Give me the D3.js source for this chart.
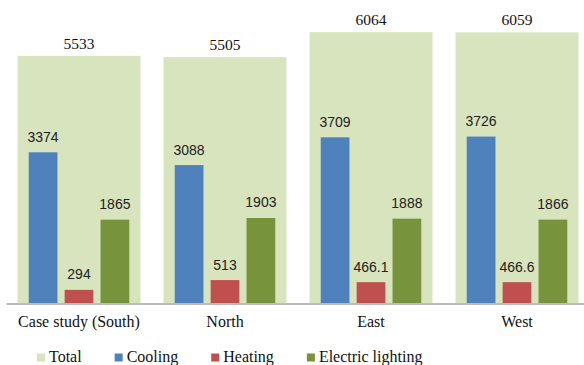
<!DOCTYPE html>
<html>
<head>
<meta charset="utf-8">
<script src="https://cdn.jsdelivr.net/npm/d3@7"></script>
<style>
  body { margin: 0; background: #fff; }
  svg { display: block; }
</style>
</head>
<body>
<svg width="584" height="365"></svg>
<script>
var categories = ['Case study (South)', 'North', 'East', 'West'];
var totals = [5533, 5505, 6064, 6059];
var cooling = [3374, 3088, 3709, 3726];
var heating = [294, 513, 466.1, 466.6];
var lighting = [1865, 1903, 1888, 1866];
var seriesNames = ['Total', 'Cooling', 'Heating', 'Electric lighting'];
var seriesColors = ['#d7e4bd', '#4f81bd', '#c0504d', '#77933c'];

var svg = d3.select('svg');
var baseY = 303;

var x0 = d3.scaleBand().domain(categories).range([6, 590]);
// total bars sit on their own wider band
var xT = d3.scaleBand().domain(categories).range([6, 590])
    .paddingInner(0.158).paddingOuter(0.079);
var x1 = d3.scaleBand().domain([1, 2, 3]).range([0, x0.bandwidth()])
    .paddingInner(0.2).paddingOuter(0.633);
var y = d3.scaleLinear().domain([0, 6000]).range([baseY, 35]);

var fmt = function(v) { return String(v); };

// Total backdrop bars
var tot = svg.append('g');
tot.selectAll('rect')
    .data(categories)
    .enter()
    .append('rect')
    .attr('x', function(d) { return xT(d); })
    .attr('y', function(d, i) { return y(totals[i]); })
    .attr('width', xT.bandwidth())
    .attr('height', function(d, i) { return baseY - y(totals[i]); })
    .style('fill', seriesColors[0]);

tot.selectAll('text')
    .data(categories)
    .enter()
    .append('text')
    .attr('x', function(d) { return xT(d) + xT.bandwidth() / 2; })
    .attr('y', function(d, i) { return y(totals[i]) - 7; })
    .attr('text-anchor', 'middle')
    .style('font-family', '"Liberation Serif", "Times New Roman", serif')
    .style('font-size', '15.5px')
    .style('fill', '#111')
    .text(function(d, i) { return fmt(totals[i]); });

// inner series bars
var inner = [cooling, heating, lighting];
inner.forEach(function(vals, s) {
    var g = svg.append('g');
    g.selectAll('rect')
        .data(categories)
        .enter()
        .append('rect')
        .attr('x', function(d) { return x0(d) + x1(s + 1); })
        .attr('y', function(d, i) { return y(vals[i]); })
        .attr('width', x1.bandwidth())
        .attr('height', function(d, i) { return baseY - y(vals[i]); })
        .style('fill', seriesColors[s + 1]);
    g.selectAll('text')
        .data(categories)
        .enter()
        .append('text')
        .attr('x', function(d) { return x0(d) + x1(s + 1) + x1.bandwidth() / 2; })
        .attr('y', function(d, i) { return y(vals[i]) - 10.5; })
        .attr('text-anchor', 'middle')
        .style('font-family', '"Liberation Sans", Arial, sans-serif')
        .style('font-size', '14px')
        .style('fill', '#222')
        .text(function(d, i) { return fmt(vals[i]); });
});

// category axis
var axis = svg.append('g')
    .attr('transform', 'translate(0,' + (baseY + 0.5) + ')')
    .call(d3.axisBottom(x0).tickSize(0).tickSizeOuter(0));
axis.select('.domain').attr('stroke', '#a6a6a6').attr('stroke-width', 1.3);
axis.selectAll('text')
    .attr('y', 23.5)
    .attr('dy', 0)
    .style('font-family', '"Liberation Serif", "Times New Roman", serif')
    .style('font-size', '16px')
    .style('fill', '#111');

// legend
var lx = 37;
seriesNames.forEach(function(name, i) {
    svg.append('rect')
        .attr('x', lx)
        .attr('y', 353.5)
        .attr('width', 8)
        .attr('height', 8)
        .style('fill', seriesColors[i]);
    var t = svg.append('text')
        .attr('x', lx + 12)
        .attr('y', 361.5)
        .style('font-family', '"Liberation Serif", "Times New Roman", serif')
        .style('font-size', '16px')
        .style('fill', '#111')
        .text(name);
    lx += 12 + t.node().getComputedTextLength() + 33;
});
</script>
</body>
</html>
